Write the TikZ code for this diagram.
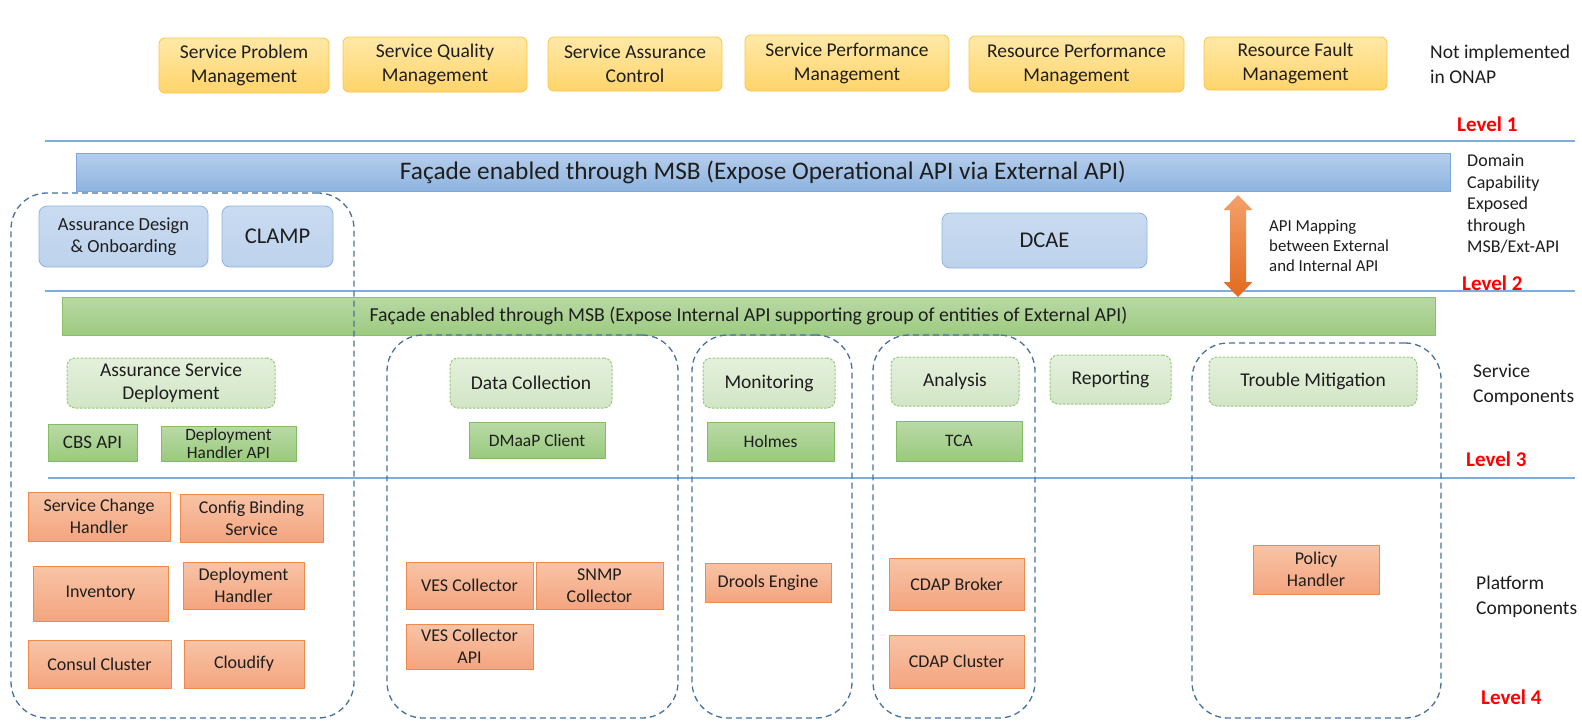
\documentclass[tikz,border=0pt]{standalone}
\usepackage{fontspec}
\setmainfont{Carlito}
\definecolor{txt}{HTML}{1E1E1E}
\definecolor{sepc}{HTML}{7FAEDD}
\definecolor{grpc}{HTML}{46739F}
\tikzset{
  base/.style={inner sep=0pt, align=center, text=txt},
  ybox/.style={base, rounded corners=6pt, draw={rgb,255:red,250;green,197;blue,70}, line width=0.8pt, top color={rgb,255:red,255;green,233;blue,168}, bottom color={rgb,255:red,255;green,212;blue,106}, font=\fontsize{19.5}{24}\selectfont},
  bbox/.style={base, rounded corners=8pt, draw={rgb,255:red,143;green,180;blue,227}, line width=0.8pt, top color={rgb,255:red,201;green,219;blue,241}, bottom color={rgb,255:red,189;green,210;blue,236}},
  bbar/.style={base, draw={rgb,255:red,126;green,166;blue,216}, line width=0.8pt, top color={rgb,255:red,182;green,206;blue,235}, bottom color={rgb,255:red,142;green,180;blue,224}, font=\fontsize{25.3}{30}\selectfont},
  gbar/.style={base, draw={rgb,255:red,140;green,192;blue,110}, line width=0.8pt, top color={rgb,255:red,184;green,216;blue,165}, bottom color={rgb,255:red,157;green,203;blue,128}, font=\fontsize{19.8}{24}\selectfont},
  dgbox/.style={base, rounded corners=8pt, draw={rgb,255:red,150;green,200;blue,122}, dashed, dash pattern=on 2.5pt off 1.5pt, line width=1pt, top color={rgb,255:red,228;green,240;blue,220}, bottom color={rgb,255:red,210;green,230;blue,198}, font=\fontsize{19.5}{22.5}\selectfont},
  gbox/.style={base, draw={rgb,255:red,132;green,188;blue,99}, line width=0.8pt, top color={rgb,255:red,185;green,218;blue,166}, bottom color={rgb,255:red,154;green,202;blue,126}, font=\fontsize{17.5}{21}\selectfont},
  obox/.style={base, draw={rgb,255:red,240;green,137;blue,74}, line width=0.8pt, top color={rgb,255:red,248;green,196;blue,166}, bottom color={rgb,255:red,244;green,164;blue,127}, font=\fontsize{18}{22}\selectfont},
  grp/.style={inner sep=0pt, draw=grpc, line width=1.3pt, dash pattern=on 6pt off 4pt, rounded corners=36pt},
  sepline/.style={draw=sepc, line width=1.1pt},
  lvl/.style={anchor=west, inner sep=0pt, text={rgb,255:red,255;green,0;blue,0}, font=\bfseries\fontsize{21}{25}\selectfont},
  lbl/.style={anchor=west, inner sep=0pt, align=left, text=txt, font=\fontsize{19.5}{24.5}\selectfont},
}
\newcommand\placebox[7]{\node[#1, minimum width={#5-#3}, minimum height={#6-#4}] (#2) at ({(#3+#5)/2},{(#4+#6)/2}) {#7};}
\begin{document}
\begin{tikzpicture}[x=1pt,y=-1pt]
\useasboundingbox[fill=white] (0,0) rectangle (1582,724);
% separator lines
\coordinate (l1a) at (45,141); \coordinate (l1b) at (1575,141);
\coordinate (l2a) at (45,291); \coordinate (l2b) at (1575,291);
\coordinate (l3a) at (48,478); \coordinate (l3b) at (1575,478);
\draw[sepline] (l1a) -- (l1b);
\draw[sepline] (l2a) -- (l2b);
\draw[sepline] (l3a) -- (l3b);
% level 1 boxes
\placebox{ybox}{spm}{159}{38}{329}{93}{Service Problem\\Management}
\placebox{ybox}{sqm}{343}{37}{527}{92}{Service Quality\\Management}
\placebox{ybox}{sac}{548}{37}{722}{91}{Service Assurance\\Control}
\placebox{ybox}{sperf}{745}{35}{949}{91}{Service Performance\\Management}
\placebox{ybox}{rpm}{969}{36}{1184}{92}{Resource Performance\\Management}
\placebox{ybox}{rfm}{1204}{37}{1387}{90}{Resource Fault\\Management}
\node[lbl] (notimpl) at (1430,64.5) {Not implemented\\in ONAP};
\node[lvl] (lev1) at (1457,124) {Level 1};
% level 2
\placebox{bbar}{extbar}{76}{153}{1450}{191}{Façade enabled through MSB (Expose Operational API via External API)}
\node[lbl, font=\fontsize{18}{21.5}\selectfont] (domain) at (1467,204) {Domain\\Capability\\Exposed\\through\\MSB/Ext-API};
\placebox{bbox, font=\fontsize{18.5}{22.5}\selectfont}{ado}{39}{206}{208}{267}{Assurance Design\\\& Onboarding}
\placebox{bbox, font=\fontsize{22.5}{26}\selectfont}{clamp}{222}{206}{333}{267}{CLAMP}
\placebox{bbox, font=\fontsize{22.5}{26}\selectfont}{dcae}{942}{213}{1147}{268}{DCAE}
\node[lbl, font=\fontsize{16.8}{20}\selectfont] (apimap) at (1269,246) {API Mapping\\between External\\and Internal API};
\node[lvl] (lev2) at (1462,283) {Level 2};
\placebox{gbar}{intbar}{62}{297}{1435}{335}{Façade enabled through MSB (Expose Internal API supporting group of entities of External API)}
% double arrow
\shade[top color={rgb,255:red,244;green,160;blue,106}, bottom color={rgb,255:red,226;green,106;blue,30}]
  (1238,195) -- (1252.5,210) -- (1246,210) -- (1246,282) -- (1252.5,282) -- (1238,297)
  -- (1223.5,282) -- (1230,282) -- (1230,210) -- (1223.5,210) -- cycle;
% level 3
\placebox{dgbox}{asd}{67}{358}{275}{408}{Assurance Service\\Deployment}
\placebox{dgbox}{dc}{450}{358}{612}{408}{Data Collection}
\placebox{dgbox}{mon}{703}{358}{835}{408}{Monitoring}
\placebox{dgbox}{ana}{891}{357}{1019}{406}{Analysis}
\placebox{dgbox}{rep}{1050}{355}{1171}{404}{Reporting}
\placebox{dgbox}{tm}{1209}{357}{1417}{406}{Trouble Mitigation}
\placebox{gbox, font=\fontsize{19}{22}\selectfont}{cbs}{48}{424}{137}{461}{CBS API}
\placebox{gbox, font=\fontsize{17.3}{18.5}\selectfont}{dhapi}{161}{426}{296}{461}{Deployment\\Handler API}
\placebox{gbox}{dmaap}{469}{422}{605}{458}{DMaaP Client}
\placebox{gbox}{holmes}{707}{422}{834}{461}{Holmes}
\placebox{gbox}{tca}{896}{421}{1022}{461}{TCA}
\node[lbl] (svccomp) at (1473,385) {Service\\Components};
\node[lvl] (lev3) at (1466,459) {Level 3};
% level 4
\placebox{obox}{sch}{28}{492}{170}{541}{Service Change\\Handler}
\placebox{obox}{cbsvc}{180}{494}{323}{542}{Config Binding\\Service}
\placebox{obox}{inv}{33}{566}{168}{621}{Inventory}
\placebox{obox}{dh}{183}{562}{304}{609}{Deployment\\Handler}
\placebox{obox}{consul}{28}{640}{171}{688}{Consul Cluster}
\placebox{obox}{cloudify}{184}{640}{304}{688}{Cloudify}
\placebox{obox}{ves}{406}{562}{533}{609}{VES Collector}
\placebox{obox}{snmp}{536}{562}{663}{609}{SNMP\\Collector}
\placebox{obox}{vesapi}{406}{624}{533}{669}{VES Collector\\API}
\placebox{obox}{drools}{705}{563}{831}{602}{Drools Engine}
\placebox{obox}{cdapb}{889}{558}{1024}{610}{CDAP Broker}
\placebox{obox}{cdapc}{889}{635}{1024}{688}{CDAP Cluster}
\placebox{obox}{policy}{1253}{545}{1379}{594}{Policy\\Handler}
\node[lbl] (platcomp) at (1476,597) {Platform\\Components};
\node[lvl] (lev4) at (1481,697) {Level 4};
% dashed groups
\placebox{grp}{g1}{11}{193}{354}{718}{}
\placebox{grp}{g2}{387}{335}{678}{718}{}
\placebox{grp}{g3}{692}{335}{852}{718}{}
\placebox{grp}{g4}{873}{335}{1035}{718}{}
\placebox{grp}{g5}{1192}{343}{1441}{718}{}
\end{tikzpicture}
\end{document}
